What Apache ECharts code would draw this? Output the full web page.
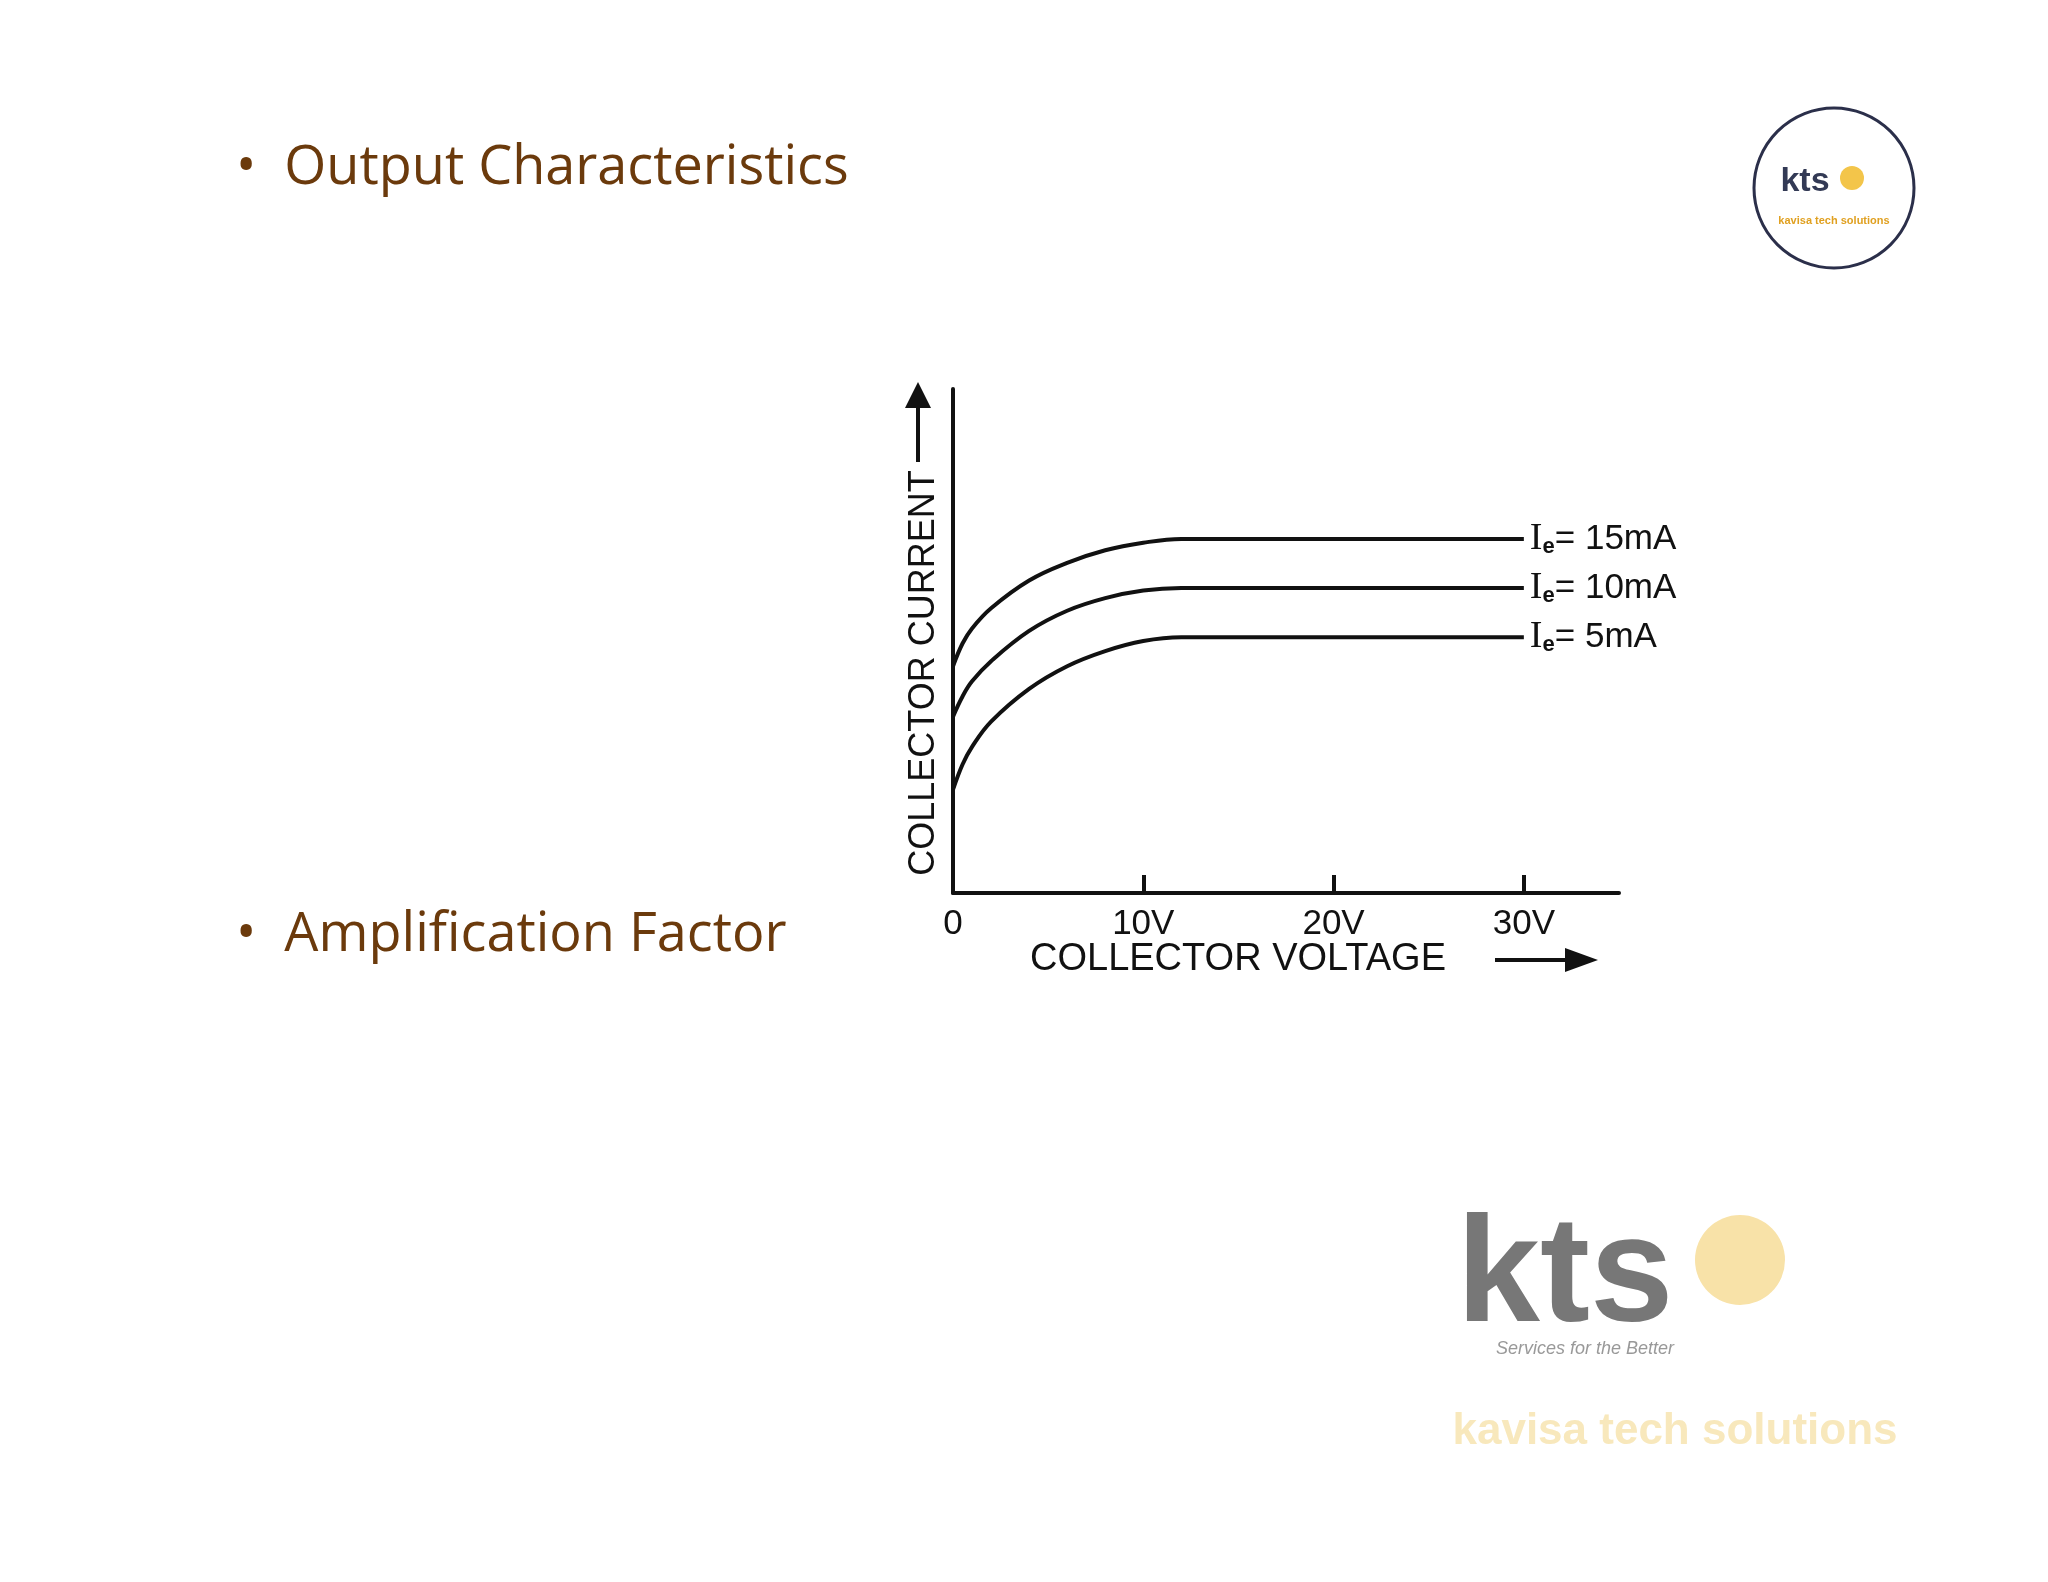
<!DOCTYPE html>
<html><head><meta charset="utf-8">
<script src="https://cdn.jsdelivr.net/npm/echarts@6/dist/echarts.min.js"></script>
<style>html,body{margin:0;background:#fff}#c{width:2048px;height:1582px}</style>
</head><body><div id="c"></div>
<script>
const voltages = [0, 0.5, 1, 2, 4, 6, 8, 10, 12, 30];
const ie15 = [9.0, 9.9, 10.5, 11.3, 12.4, 13.1, 13.6, 13.9, 14.05, 14.05];
const ie10 = [7.0, 7.8, 8.4, 9.2, 10.4, 11.2, 11.7, 12.0, 12.1, 12.1];
const ie5  = [4.1, 5.1, 5.8, 6.8, 8.1, 9.0, 9.6, 10.0, 10.15, 10.15];
const seriesNames = ['15mA', '10mA', '5mA'];
const xTicks = [0, 10, 20, 30];

const chart = echarts.init(document.getElementById('c'));
const mk = (name, vals) => ({
  type: 'line', smooth: 0.4, symbol: 'none', data: voltages.map((v, i) => [v, vals[i]]),
  lineStyle: {color: '#111', width: 4},
  endLabel: {show: true, distance: 6, color: '#111', fontFamily: 'Liberation Sans', fontSize: 35,
    formatter: '{i|I}{s|e}= ' + name,
    rich: {i: {fontFamily: 'Liberation Serif', fontSize: 38, color: '#111'}, s: {fontSize: 22, fontWeight: 'bold', verticalAlign: 'bottom', padding:[12,0,0,0], color:'#111'}}}
});
chart.setOption({
  animation: false,
  grid: {left: 953, right: 429, top: 389, bottom: 689},
  xAxis: {type: 'value', min: 0, max: 35, interval: 10,
    axisLine: {lineStyle: {color: '#111', width: 4}},
    axisTick: {inside: true, length: 18, lineStyle: {color: '#111', width: 4}, customValues: [10, 20, 30]},
    axisLabel: {color: '#111', fontSize: 35, fontFamily: 'Liberation Sans', margin: 14,
      customValues: xTicks, formatter: v => v === 0 ? '0' : v + 'V'},
    splitLine: {show: false}},
  yAxis: {type: 'value', min: 0, max: 20,
    axisLine: {show: true, lineStyle: {color: '#111', width: 4}},
    axisTick: {show: false}, axisLabel: {show: false}, splitLine: {show: false}},
  series: [mk(seriesNames[0], ie15), mk(seriesNames[1], ie10), mk(seriesNames[2], ie5)],
  graphic: [
    {type: 'text', left: 236, top: 142, style: {text: '•  Output Characteristics', fontSize: 54, fontFamily: 'Open Sans', fill: '#6b3a0c'}},
    {type: 'text', left: 236, top: 909, style: {text: '•  Amplification Factor', fontSize: 54, fontFamily: 'Open Sans', fill: '#6b3a0c'}},
    {type: 'text', x: 924, y: 673, rotation: Math.PI / 2, style: {text: 'COLLECTOR CURRENT', fontSize: 36, fontFamily: 'Liberation Sans', fill: '#111', align: 'center', verticalAlign: 'middle'}},
    {type: 'line', shape: {x1: 918, y1: 462, x2: 918, y2: 400}, style: {stroke: '#111', lineWidth: 4}},
    {type: 'polygon', shape: {points: [[905, 408], [931, 408], [918, 382]]}, style: {fill: '#111'}},
    {type: 'text', x: 1238, y: 960, style: {text: 'COLLECTOR VOLTAGE', fontSize: 38, fontFamily: 'Liberation Sans', fill: '#111', align: 'center', verticalAlign: 'middle'}},
    {type: 'line', shape: {x1: 1495, y1: 960, x2: 1570, y2: 960}, style: {stroke: '#111', lineWidth: 4}},
    {type: 'polygon', shape: {points: [[1565, 948], [1565, 972], [1598, 960]]}, style: {fill: '#111'}},
    {type: 'circle', shape: {cx: 1834, cy: 188, r: 80}, style: {fill: '#fff', stroke: '#2b2f4a', lineWidth: 3}},
    {type: 'text', x: 1805, y: 182, style: {text: 'kts', fontSize: 34, fontWeight: 'bold', fontFamily: 'Liberation Sans', fill: '#333a55', align: 'center', verticalAlign: 'middle'}},
    {type: 'circle', shape: {cx: 1852, cy: 178, r: 12}, style: {fill: '#f3c54a'}},
    {type: 'text', x: 1834, y: 215, style: {text: 'kavisa tech solutions', fontSize: 11, fontWeight: 'bold', fontFamily: 'Liberation Sans', fill: '#e0a020', align: 'center'}},
    {type: 'text', x: 1565, y: 1280, style: {text: 'kts', fontSize: 150, fontWeight: 'bold', fontFamily: 'Liberation Sans', fill: '#777', align: 'center', verticalAlign: 'middle'}},
    {type: 'circle', shape: {cx: 1740, cy: 1260, r: 45}, style: {fill: '#f8e2a8'}},
    {type: 'text', x: 1585, y: 1340, style: {text: "Services for the Better", fontSize: 18, fontStyle: 'italic', fontFamily: 'Liberation Sans', fill: '#999', align: 'center'}},
    {type: 'text', x: 1675, y: 1432, style: {text: 'kavisa tech solutions', fontSize: 44, fontWeight: 'bold', fontFamily: 'Liberation Sans', fill: '#f8e8bc', align: 'center', verticalAlign: 'middle'}}
  ]
});
</script></body></html>
